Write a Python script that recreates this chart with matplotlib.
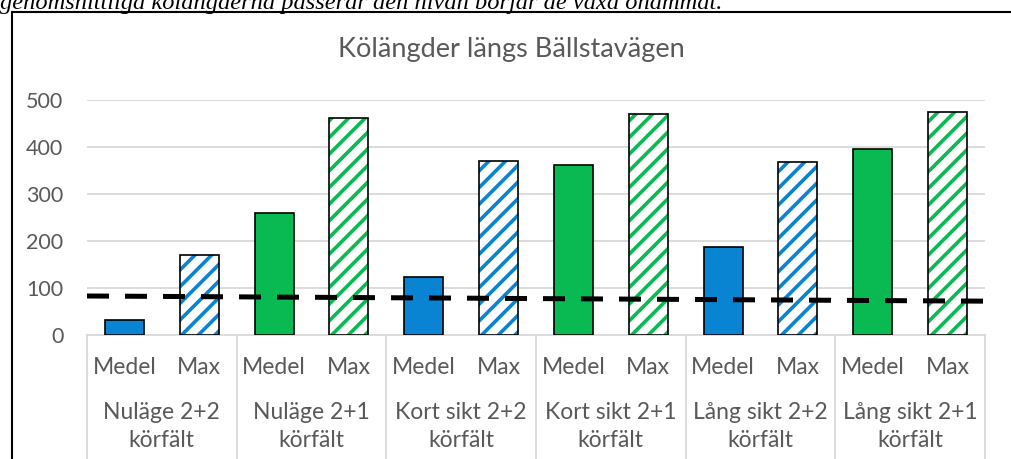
import numpy as np
import matplotlib.pyplot as plt
from matplotlib.transforms import blended_transform_factory

# data
groups = ['Nuläge 2+2\nkörfält', 'Nuläge 2+1\nkörfält', 'Kort sikt 2+2\nkörfält',
          'Kort sikt 2+1\nkörfält', 'Lång sikt 2+2\nkörfält', 'Lång sikt 2+1\nkörfält']
subs = ['Medel', 'Max']
medel = [32, 260, 123, 362, 188, 395]
maxv = [170, 462, 370, 471, 368, 474]
group_color = ['blue', 'green', 'blue', 'green', 'blue', 'green']
limit_ends = [83, 72]   # dashed reference line, left and right end
yticks = [0, 100, 200, 300, 400, 500]

colors = {'blue': '#0984D3', 'green': '#09BA52'}
txt = '#595959'
grid = '#d9d9d9'

plt.rcParams['font.family'] = ['Lato', 'DejaVu Sans']
plt.rcParams['hatch.linewidth'] = 2.6

fig = plt.figure(figsize=(10.11, 4.59), dpi=100)
ax = fig.add_axes([87/1011, 1-335/459, (985-87)/1011, 235/459])

w = 0.52
for i in range(len(groups)):
    c = colors[group_color[i]]
    x0 = 2*i
    ax.bar(x0, medel[i], w, color=c, edgecolor='black', linewidth=1.2, zorder=3)
    ax.bar(x0+1, maxv[i], w, color='white', edgecolor=c, hatch='//', linewidth=0, zorder=3)
    ax.bar(x0+1, maxv[i], w, fill=False, edgecolor='black', linewidth=1.2, zorder=4)

ax.plot([-0.5, 11.5], limit_ends, color='black', lw=3.6, dashes=(4.4, 3.2),
        solid_capstyle='butt', dash_capstyle='butt', zorder=5)

ax.set_xlim(-0.5, 11.5)
ax.set_ylim(0, 500)
ax.set_yticks(yticks)
ax.set_yticklabels([str(t) for t in yticks], color=txt, fontsize=15.5)
ax.tick_params(axis='y', length=0, pad=17)
ax.set_xticks([])
for s in ax.spines.values():
    s.set_visible(False)
for t in yticks[1:]:
    ax.axhline(t, color=grid, lw=1.3, zorder=1)

# category table under the axis
tr = blended_transform_factory(ax.transData, ax.transAxes)
ax.plot([0, 1], [0, 0], color=grid, lw=1.3, transform=ax.transAxes, clip_on=False)
for k in range(7):
    ax.plot([k/6, k/6], [0, -0.6], color=grid, lw=1.3, transform=ax.transAxes, clip_on=False)
for i in range(len(groups)):
    for j, s in enumerate(subs):
        ax.text(2*i+j, -0.14, s, transform=tr, ha='center', va='center', color=txt, fontsize=16.5)
    ax.text(2*i+0.5, -0.39, groups[i], transform=tr, ha='center', va='center',
            color=txt, fontsize=16.5, linespacing=1.42)

fig.text(511/1011, 1-50/459, 'Kölängder längs Bällstavägen', ha='center', va='center',
         color=txt, fontsize=19.5)

# surrounding document text and chart frame
fig.text(0.0, 1-9/459, 'genomsnittliga kölängderna passerar den nivån börjar de växa ohämmat.',
         family='Liberation Serif', style='italic', fontsize=17.6, va='baseline', ha='left')
fig.add_artist(plt.Line2D([12/1011, 12/1011], [0, 1-12/459], color='black', lw=1.5))
fig.add_artist(plt.Line2D([12/1011, 1], [1-12/459, 1-12/459], color='black', lw=1.5))

fig.savefig('out.png', dpi=100)
